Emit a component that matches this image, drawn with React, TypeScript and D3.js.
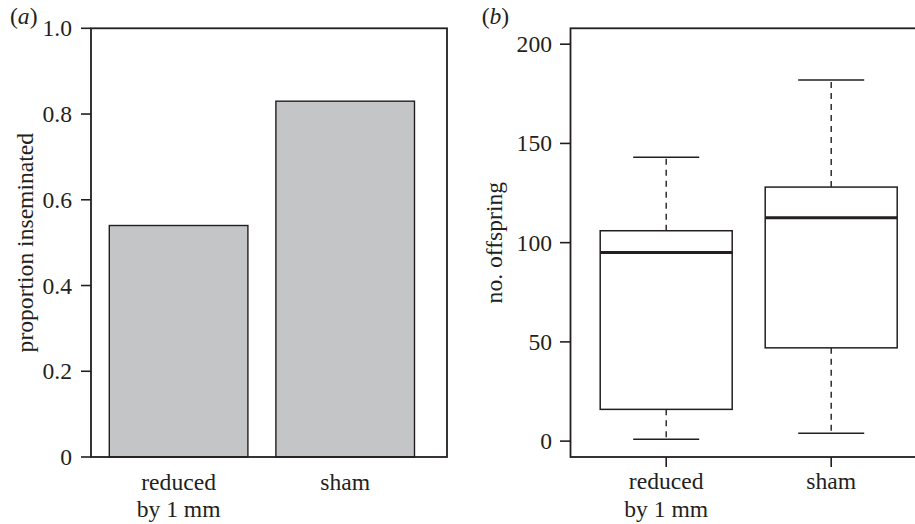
import React from "react";
import * as d3 from "d3";

// ---------- data ----------
const categories = ["reduced", "sham"];
const categoryLines = [["reduced", "by 1 mm"], ["sham"]];
const proportionInseminated = [0.54, 0.83];
const propTicks = [0, 0.2, 0.4, 0.6, 0.8, 1.0];
const propTickLabels = ["0", "0.2", "0.4", "0.6", "0.8", "1.0"];

const offspringTicks = [0, 50, 100, 150, 200];
const whiskerLow = [1, 4];
const quartile1 = [16, 47];
const medians = [95, 112.5];
const quartile3 = [106, 128];
const whiskerHigh = [143, 182];

const panelLabels = ["a", "b"];
const yTitles = ["proportion inseminated", "no. offspring"];

// ---------- style ----------
const INK = "#231f20";
const BAR_FILL = "#c4c5c7";
const FONT = "'Liberation Serif', 'Times New Roman', serif";
const FS = 23.6;

export default function App() {
  // Panel A scales
  const frameA = { left: 91, right: 447, top: 28.3, bottom: 457 };
  const yA = d3.scaleLinear().domain([0, 1]).range([frameA.bottom, frameA.top]);
  const xA = d3
    .scaleBand<string>()
    .domain(categories)
    .range([109.3, 414.5])
    .paddingInner(0.168);

  // Panel B scales
  const frameB = { left: 570.5, right: 926.9, top: 28.3, bottom: 457 };
  const yB = d3.scaleLinear().domain([-8, 208]).range([frameB.bottom, frameB.top]);
  const xB = d3.scaleLinear().domain([0.42, 2.58]).range([frameB.left, frameB.right]);

  const textStyle = { fontFamily: FONT, fontSize: FS, fill: INK } as const;

  return (
    <svg
      width={915}
      height={524}
      viewBox="0 0 915 524"
      style={{ position: "absolute", left: 0, top: 0, display: "block", background: "#fff" }}
    >
      <rect x={0} y={0} width={915} height={524} fill="#fff" />

      {/* ---------------- Panel A ---------------- */}
      <g>
        <text x={10} y={24} style={textStyle}>
          (<tspan fontStyle="italic">{panelLabels[0]}</tspan>)
        </text>
        {proportionInseminated.map((v, i) => (
          <rect
            key={i}
            x={xA(categories[i])}
            y={yA(v)}
            width={xA.bandwidth()}
            height={yA(0) - yA(v)}
            fill={BAR_FILL}
            stroke={INK}
            strokeWidth={1.4}
          />
        ))}
        <rect
          x={frameA.left}
          y={frameA.top}
          width={frameA.right - frameA.left}
          height={frameA.bottom - frameA.top}
          fill="none"
          stroke={INK}
          strokeWidth={1.8}
        />
        {propTicks.map((t, i) => (
          <g key={i}>
            <line x1={frameA.left - 10} x2={frameA.left} y1={yA(t)} y2={yA(t)} stroke={INK} strokeWidth={1.6} />
            <text x={72} y={yA(t)} dy="0.34em" textAnchor="end" style={textStyle}>
              {propTickLabels[i]}
            </text>
          </g>
        ))}
        <text
          transform={`translate(32.5,${(frameA.top + frameA.bottom) / 2}) rotate(-90)`}
          textAnchor="middle"
          style={textStyle}
        >
          {yTitles[0]}
        </text>
        {categoryLines.map((lines, i) => (
          <text
            key={i}
            x={(xA(categories[i]) as number) + xA.bandwidth() / 2}
            y={489.5}
            textAnchor="middle"
            style={textStyle}
          >
            {lines.map((l, j) => (
              <tspan key={j} x={(xA(categories[i]) as number) + xA.bandwidth() / 2} dy={j === 0 ? 0 : 27.5}>
                {l}
              </tspan>
            ))}
          </text>
        ))}
      </g>

      {/* ---------------- Panel B ---------------- */}
      <g>
        <text x={481.7} y={24} style={textStyle}>
          (<tspan fontStyle="italic">{panelLabels[1]}</tspan>)
        </text>
        {categories.map((c, i) => {
          const cx = xB(i + 1);
          const bl = xB(i + 1 - 0.4);
          const br = xB(i + 1 + 0.4);
          const cl = xB(i + 1 - 0.2);
          const cr = xB(i + 1 + 0.2);
          return (
            <g key={c}>
              <line x1={cx} x2={cx} y1={yB(quartile3[i])} y2={yB(whiskerHigh[i])} stroke={INK} strokeWidth={1.4} strokeDasharray="6,5" />
              <line x1={cx} x2={cx} y1={yB(quartile1[i])} y2={yB(whiskerLow[i])} stroke={INK} strokeWidth={1.4} strokeDasharray="6,5" />
              <line x1={cl} x2={cr} y1={yB(whiskerHigh[i])} y2={yB(whiskerHigh[i])} stroke={INK} strokeWidth={1.5} />
              <line x1={cl} x2={cr} y1={yB(whiskerLow[i])} y2={yB(whiskerLow[i])} stroke={INK} strokeWidth={1.5} />
              <rect
                x={bl}
                y={yB(quartile3[i])}
                width={br - bl}
                height={yB(quartile1[i]) - yB(quartile3[i])}
                fill="#fff"
                stroke={INK}
                strokeWidth={1.5}
              />
              <line x1={bl} x2={br} y1={yB(medians[i])} y2={yB(medians[i])} stroke={INK} strokeWidth={3} />
              <line x1={cx} x2={cx} y1={frameB.bottom} y2={frameB.bottom + 10} stroke={INK} strokeWidth={1.6} />
              <text x={cx} y={489} textAnchor="middle" style={textStyle}>
                {categoryLines[i].map((l, j) => (
                  <tspan key={j} x={cx} dy={j === 0 ? 0 : 28}>
                    {l}
                  </tspan>
                ))}
              </text>
            </g>
          );
        })}
        <rect
          x={frameB.left}
          y={frameB.top}
          width={frameB.right - frameB.left}
          height={frameB.bottom - frameB.top}
          fill="none"
          stroke={INK}
          strokeWidth={1.8}
        />
        {offspringTicks.map((t) => (
          <g key={t}>
            <line x1={frameB.left - 10.5} x2={frameB.left} y1={yB(t)} y2={yB(t)} stroke={INK} strokeWidth={1.6} />
            <text x={552} y={yB(t)} dy="0.34em" textAnchor="end" style={textStyle}>
              {t}
            </text>
          </g>
        ))}
        <text
          transform={`translate(502,${(frameB.top + frameB.bottom) / 2}) rotate(-90)`}
          textAnchor="middle"
          style={textStyle}
        >
          {yTitles[1]}
        </text>
      </g>
    </svg>
  );
}
